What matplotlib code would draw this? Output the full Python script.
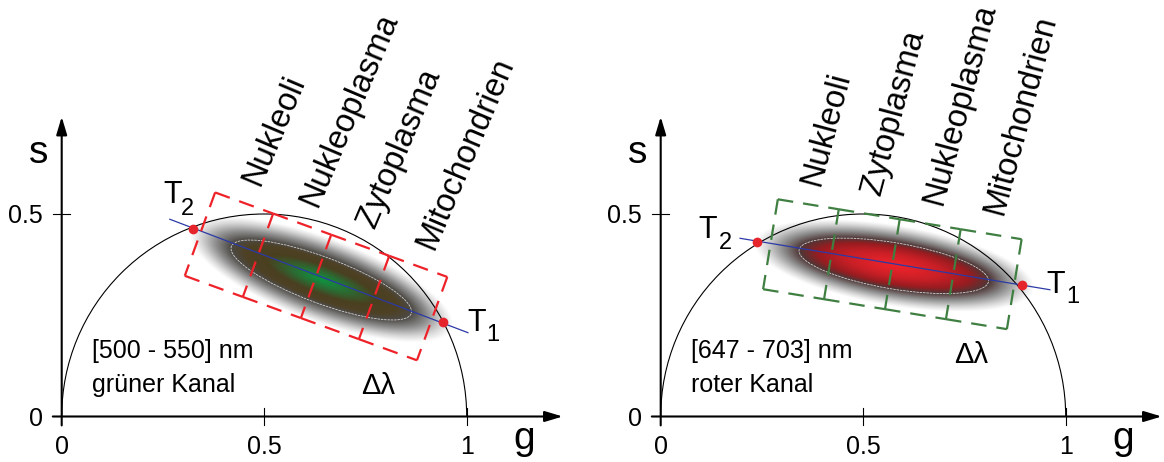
import numpy as np
import matplotlib
matplotlib.use("Agg")
import matplotlib.pyplot as plt
from matplotlib.colors import LinearSegmentedColormap
from matplotlib.patches import Arc, Ellipse

plt.rcParams['font.family'] = ['Liberation Sans', 'DejaVu Sans']

# axis ticks shared by both panels
g_ticks = [0, 0.5, 1]
g_tick_labels = ['0', '0.5', '1']
s_ticks = [0, 0.5]
s_tick_labels = ['0', '0.5']

# left panel: green channel
green_range = '[500 - 550] nm'
green_name = 'grüner Kanal'
green_regions = ['Nukleoli', 'Nukleoplasma', 'Zytoplasma', 'Mitochondrien']
green_t1 = (0.942, 0.233)
green_t2 = (0.324, 0.463)
green_line_g = [0.267, 1.003]
green_line_s = [0.487, 0.207]
green_cloud_center = (0.641, 0.337)
green_box_center = (0.628, 0.346)

# right panel: red channel
red_range = '[647 - 703] nm'
red_name = 'roter Kanal'
red_regions = ['Nukleoli', 'Zytoplasma', 'Nukleoplasma', 'Mitochondrien']
red_t1 = (0.891, 0.325)
red_t2 = (0.2385, 0.432)
red_line_g = [0.196, 0.961]
red_line_s = [0.440, 0.313]
red_cloud_center = (0.5755, 0.372)
red_box_center = (0.572, 0.376)

W, H = 1164, 462
SCALE = 405.0
XLIM = (-0.14, 1.25)
YLIM = (-0.11, 1.02)

fig = plt.figure(figsize=(W / 100, H / 100), dpi=100)


def make_axes(x0, y0):
    left = x0 + XLIM[0] * SCALE
    bottom = (H - y0) + YLIM[0] * SCALE
    ax = fig.add_axes([left / W, bottom / H,
                       (XLIM[1] - XLIM[0]) * SCALE / W,
                       (YLIM[1] - YLIM[0]) * SCALE / H])
    ax.set_xlim(*XLIM)
    ax.set_ylim(*YLIM)
    ax.axis('off')
    ax.patch.set_alpha(0)
    return ax


def draw_axes(ax):
    arrow = dict(arrowstyle='-|>,head_length=0.6,head_width=0.18', lw=1.5,
                 color='black', mutation_scale=18, shrinkA=0, shrinkB=0)
    ax.annotate('', xy=(1.237, 0), xytext=(-0.022, 0), arrowprops=arrow, zorder=6)
    ax.annotate('', xy=(0, 0.74), xytext=(0, -0.022), arrowprops=arrow, zorder=6)
    for g in g_ticks[1:]:
        ax.plot([g, g], [-0.021, 0.021], color='black', lw=0.8, zorder=6)
    for s in s_ticks[1:]:
        ax.plot([-0.022, 0.021], [s, s], color='black', lw=0.8, zorder=6)
    for g, lab in zip(g_ticks, g_tick_labels):
        ax.text(g, -0.068, lab, fontsize=18, ha='center', va='center_baseline')
    for s, lab in zip(s_ticks, s_tick_labels):
        ax.text(-0.046, s, lab, fontsize=18, ha='right', va='center_baseline')
    ax.text(-0.056, 0.625, 's', fontsize=28, ha='center', va='baseline')
    ax.text(1.141, -0.080, 'g', fontsize=28, ha='center', va='baseline')
    ax.add_patch(Arc((0.5, 0), 1, 1, theta1=0, theta2=180, color='black', lw=0.8, zorder=3))


def draw_cloud(ax, center, angle, a_in, b_in, a_out, b_out, colors):
    cmap = LinearSegmentedColormap.from_list('cloud', colors)
    gc, sc = center
    ext = (gc - 0.45, gc + 0.45, sc - 0.25, sc + 0.25)
    gg, ss = np.meshgrid(np.linspace(ext[0], ext[1], 700),
                         np.linspace(ext[2], ext[3], 400))
    t = np.deg2rad(angle)
    u = (gg - gc) * np.cos(t) + (ss - sc) * np.sin(t)
    v = -(gg - gc) * np.sin(t) + (ss - sc) * np.cos(t)
    r_in = np.hypot(u / a_in, v / b_in)
    r_out = np.hypot(u / a_out, v / b_out)
    with np.errstate(divide='ignore', invalid='ignore'):
        q = (1 - 1 / r_in) / (1 / r_out - 1 / r_in)
        outside = 0.5 * np.clip(1 - q, 0, 1) ** 1.1
    level = np.where(r_in <= 1, 1 - 0.5 * r_in, outside)
    ax.imshow(cmap(level), extent=ext, origin='lower', aspect='auto',
              interpolation='bilinear', zorder=1)
    ax.add_patch(Ellipse(center, 2 * a_in, 2 * b_in, angle=angle, fill=False,
                         ec='#cfcfcf', lw=0.6, linestyle=(0, (3, 1)), zorder=2))


def draw_box(ax, center, length, width, angle, labels, color, rot):
    t = np.deg2rad(angle)
    along = np.array([np.cos(t), np.sin(t)])
    up = np.array([-np.sin(t), np.cos(t)])
    c = np.array(center)
    step = length / len(labels)
    kw = dict(color=color, lw=1.6, linestyle=(0, (7, 4.5)), dash_capstyle='butt', zorder=5)
    for i, lab in enumerate(labels):
        p0 = c - along * length / 2 + along * step * i
        p1 = p0 + along * step
        tl, bl = p0 + up * width / 2, p0 - up * width / 2
        tr, br = p1 + up * width / 2, p1 - up * width / 2
        for a, b in [(tl, bl), (bl, br), (tl, tr)]:
            ax.plot([a[0], b[0]], [a[1], b[1]], **kw)
        if i == len(labels) - 1:
            ax.plot([tr[0], br[0]], [tr[1], br[1]], **kw)
        anchor = (tl + tr) / 2 + up * 0.05
        ax.text(anchor[0], anchor[1], lab, fontsize=23.5, rotation=rot,
                rotation_mode='anchor', ha='left', va='center', zorder=7)


def draw_marks(ax, line_g, line_s, t1, t2, t1_off, t2_off):
    ax.plot(line_g, line_s, color='#2b3aa6', lw=0.9, zorder=4)
    ax.plot([t1[0], t2[0]], [t1[1], t2[1]], 'o', color='#e5242b', ms=7,
            mec='none', zorder=8)
    for pt, off, sub in [(t1, t1_off, '1'), (t2, t2_off, '2')]:
        ax.annotate('T', xy=pt, xytext=off[0], textcoords='offset pixels',
                    fontsize=22, ha='center', va='center_baseline')
        ax.annotate(sub, xy=pt, xytext=off[1], textcoords='offset pixels',
                    fontsize=17, ha='center', va='center_baseline')


def draw_text(ax, rng, name, dl_pos):
    ax.text(0.074, 0.144, rng, fontsize=18, ha='left', va='baseline')
    ax.text(0.074, 0.061, name, fontsize=18, ha='left', va='baseline')
    ax.text(dl_pos[0], dl_pos[1], 'Δλ', fontsize=21, ha='center', va='center_baseline')


green_colors = [(0.0, '#ffffff'), (0.12, '#d6d6d6'), (0.3, '#8e8e8e'),
                (0.5, '#4c4944'), (0.58, '#4e4124'), (0.7, '#4a4020'),
                (0.84, '#2c6a32'), (1.0, '#0e9441')]
red_colors = [(0.0, '#ffffff'), (0.12, '#d6d6d6'), (0.3, '#8e8e8e'),
              (0.5, '#4e3636'), (0.6, '#981c20'), (0.75, '#c81f26'),
              (0.9, '#e2222a'), (1.0, '#ee2329')]

# left panel
ax1 = make_axes(61.7, 416.5)
draw_axes(ax1)
draw_cloud(ax1, green_cloud_center, -20.5, 0.237, 0.057, 0.345, 0.104, green_colors)
draw_marks(ax1, green_line_g, green_line_s, green_t1, green_t2,
           [(33, 3), (50, -10)], [(-20, 37), (-5, 22)])
draw_box(ax1, green_box_center, 0.61, 0.219, -20.0, green_regions, '#ee2229', 67)
draw_text(ax1, green_range, green_name, (0.781, 0.083))

# right panel
ax2 = make_axes(660.7, 416.5)
draw_axes(ax2)
draw_cloud(ax2, red_cloud_center, -9.5, 0.237, 0.057, 0.35, 0.1, red_colors)
draw_marks(ax2, red_line_g, red_line_s, red_t1, red_t2,
           [(34, 3), (51, -10)], [(-50, 15), (-32, 1)])
draw_box(ax2, red_box_center, 0.61, 0.225, -9.3, red_regions, '#3f7f41', 75)
draw_text(ax2, red_range, red_name, (0.767, 0.159))

fig.savefig('out.png', dpi=100)
